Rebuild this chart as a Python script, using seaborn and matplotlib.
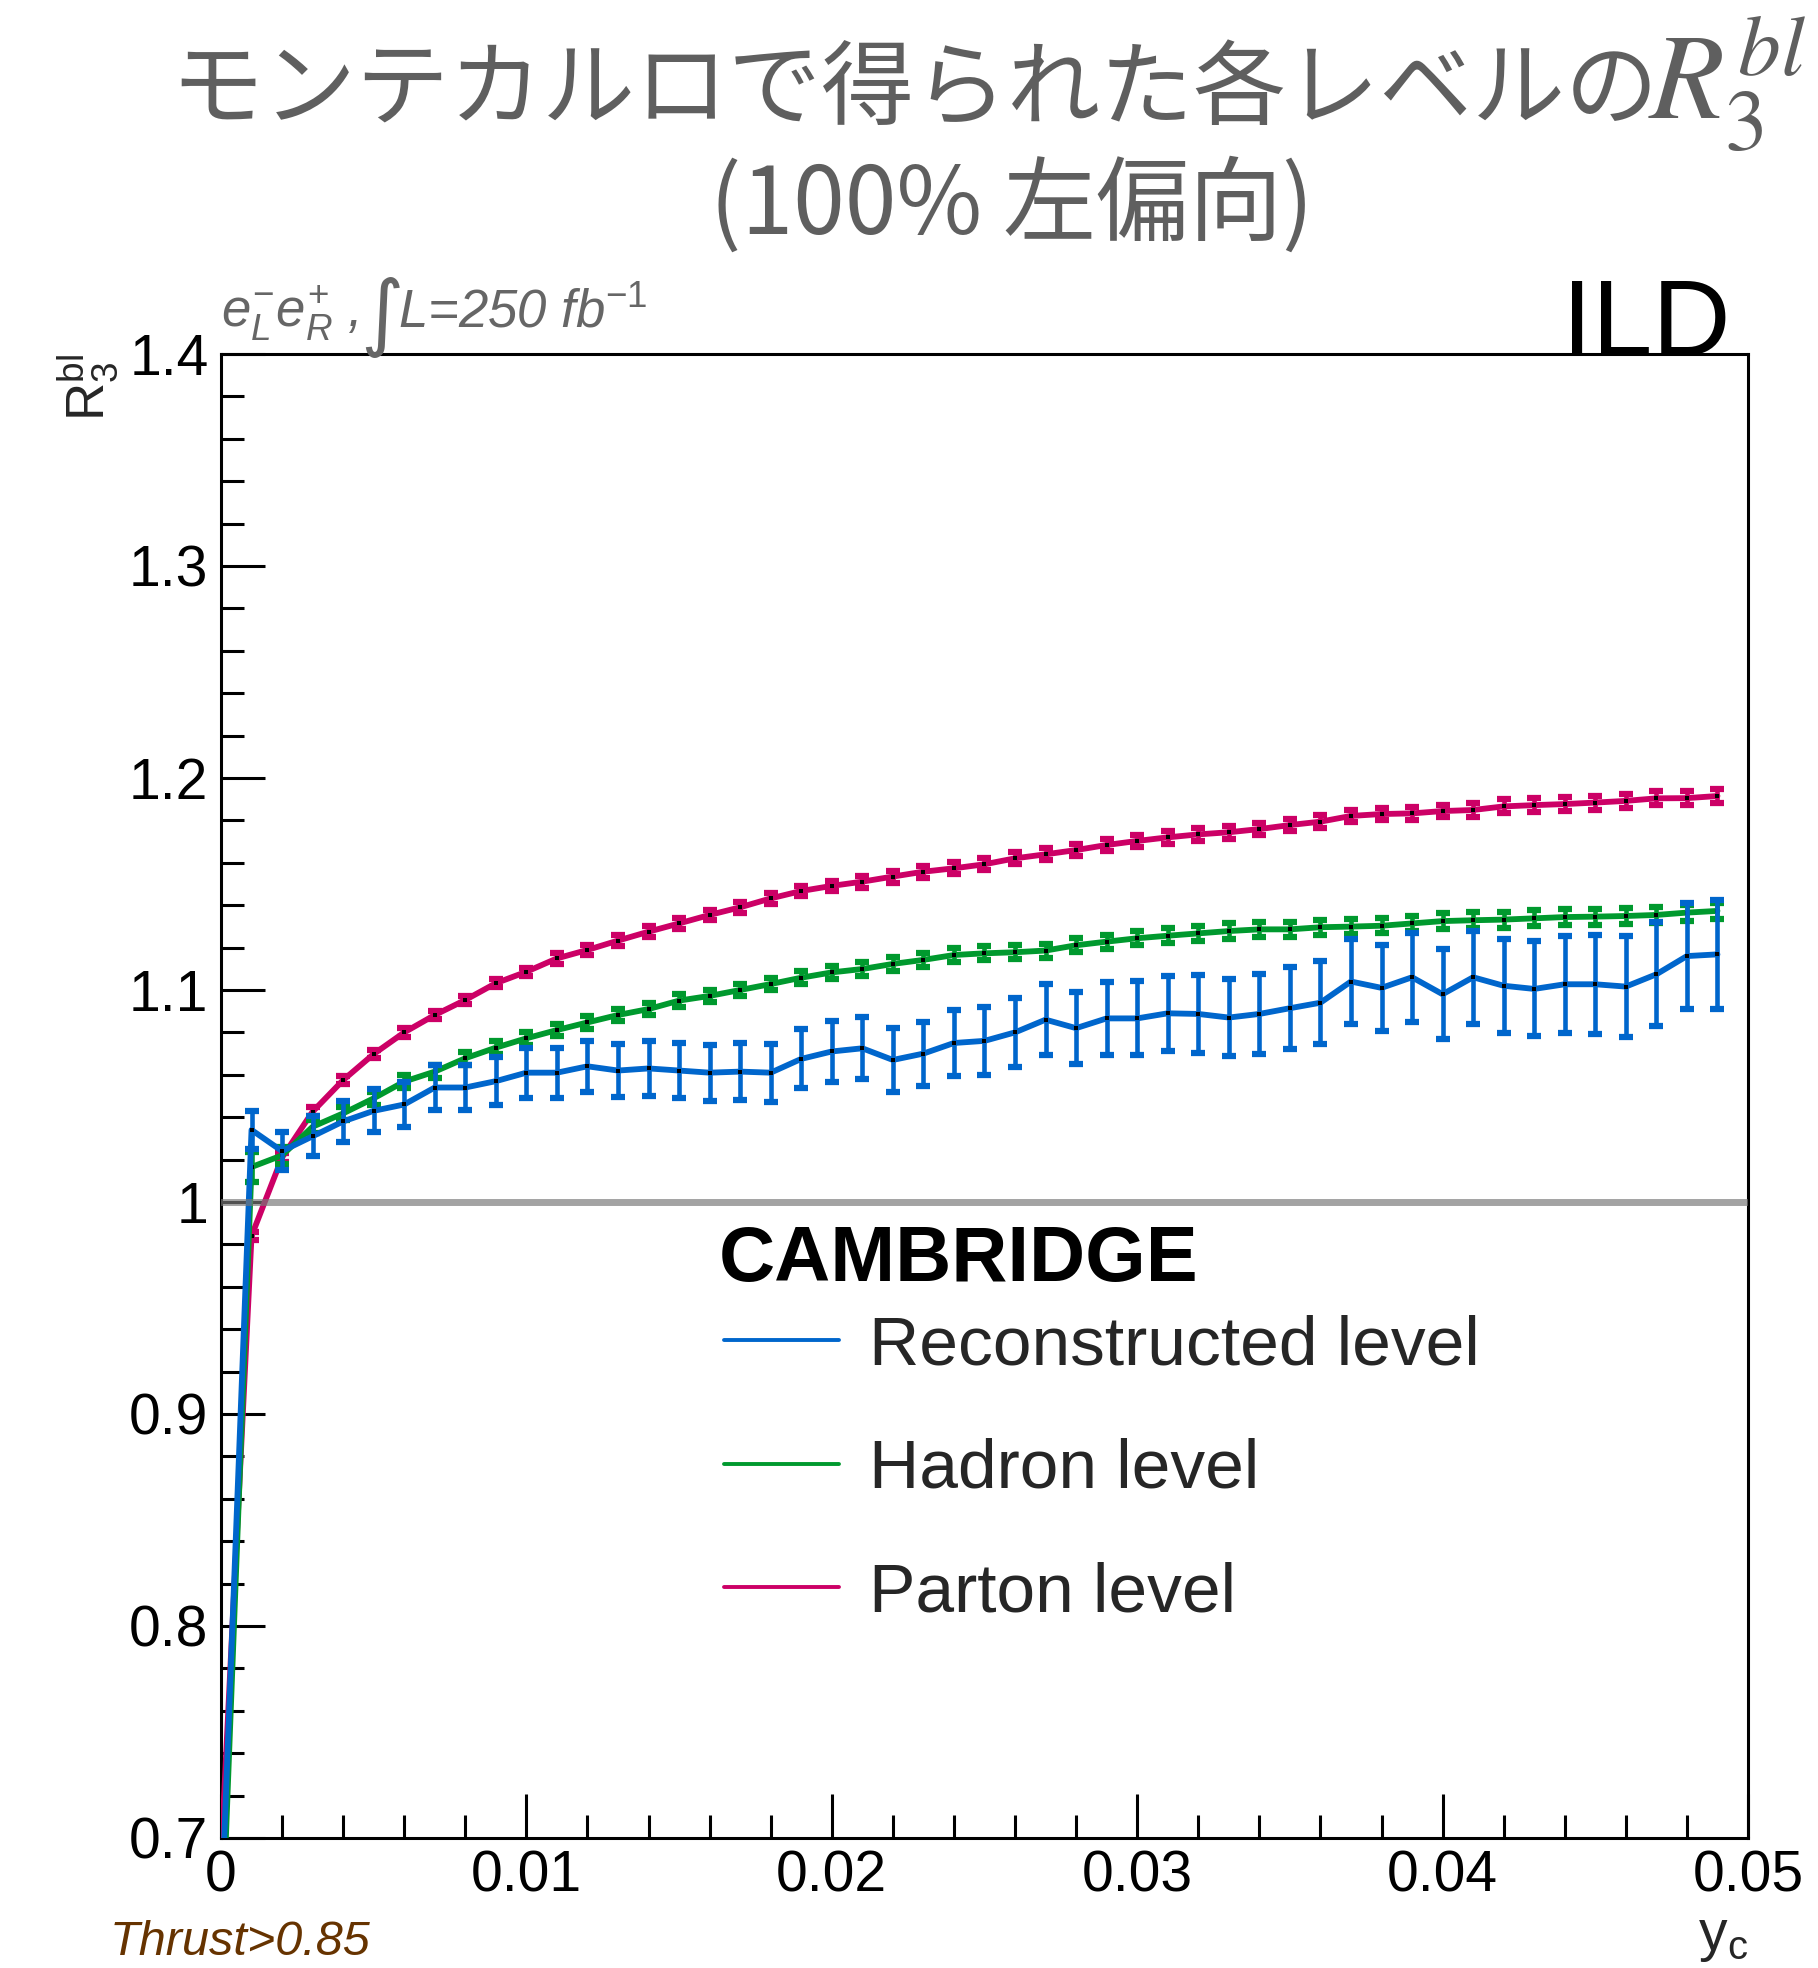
import numpy as np
import pandas as pd
import matplotlib
matplotlib.use("Agg")
import matplotlib.pyplot as plt
import seaborn as sns
from matplotlib.ticker import MultipleLocator, FuncFormatter

# ---- data: R3^bl versus the jet-resolution cut y_c ----
ycut = np.arange(50) / 1000.0

r3_reco = [0.660, 1.034, 1.024, 1.031, 1.038, 1.043, 1.046, 1.054, 1.054, 1.057,
           1.061, 1.061, 1.064, 1.062, 1.063, 1.062, 1.061, 1.0615, 1.061, 1.0675,
           1.071, 1.0725, 1.067, 1.070, 1.075, 1.076, 1.080, 1.086, 1.082, 1.0866,
           1.0866, 1.089, 1.0887, 1.087, 1.0887, 1.0914, 1.094, 1.104, 1.101, 1.106,
           1.098, 1.106, 1.102, 1.1005, 1.1027, 1.1027, 1.1016, 1.1074, 1.116, 1.1168]
r3_hadron = [0.640, 1.0165, 1.022, 1.0355, 1.0418, 1.0489, 1.0568, 1.0615, 1.0678, 1.0728,
             1.0772, 1.0811, 1.0847, 1.0882, 1.091, 1.095, 1.0972, 1.100, 1.1028, 1.1058,
             1.1083, 1.1099, 1.1123, 1.1142, 1.1165, 1.1173, 1.1178, 1.1186, 1.1211, 1.1228,
             1.1244, 1.1256, 1.1267, 1.1278, 1.1286, 1.1286, 1.1296, 1.1299, 1.1303, 1.1314,
             1.1325, 1.1329, 1.1332, 1.1338, 1.1344, 1.1346, 1.1349, 1.1354, 1.1365, 1.1373]
r3_parton = [0.690, 0.984, 1.021, 1.0426, 1.0575, 1.0698, 1.080, 1.0882, 1.0953, 1.1032,
             1.1086, 1.1149, 1.1189, 1.1233, 1.1275, 1.1314, 1.1354, 1.139, 1.1432, 1.1467,
             1.1491, 1.1511, 1.1535, 1.1558, 1.1574, 1.1593, 1.1621, 1.164, 1.166, 1.1684,
             1.1703, 1.172, 1.1734, 1.1744, 1.1759, 1.1778, 1.1794, 1.1821, 1.183, 1.1833,
             1.1844, 1.1849, 1.1866, 1.1872, 1.1877, 1.1884, 1.1892, 1.1904, 1.1905, 1.1915]

# statistical uncertainties for y_c = 0.001 ... 0.049
err_reco = [0.009, 0.009, 0.0094, 0.0098, 0.0102, 0.0106, 0.0108, 0.0108, 0.0114, 0.0118,
            0.0118, 0.012, 0.0126, 0.013, 0.013, 0.0132, 0.0134, 0.0137, 0.0139, 0.0144,
            0.0147, 0.0149, 0.0151, 0.0156, 0.0159, 0.0161, 0.0166, 0.0169, 0.0174, 0.0175,
            0.0178, 0.0182, 0.0183, 0.0188, 0.0193, 0.0197, 0.020, 0.0204, 0.021, 0.0212,
            0.0219, 0.0222, 0.0224, 0.023, 0.0233, 0.024, 0.0245, 0.025, 0.0258]
err_hadron = [0.007, 0.004, 0.003, 0.003, 0.003, 0.003, 0.003, 0.003, 0.003, 0.003,
              0.003, 0.003, 0.003, 0.003, 0.003, 0.003, 0.003, 0.003, 0.003, 0.003,
              0.0033, 0.0033, 0.0033, 0.0033, 0.0033, 0.0033, 0.0033, 0.0033, 0.0033, 0.0033,
              0.0036, 0.0036, 0.0036, 0.0036, 0.0036, 0.0036, 0.0036, 0.0036, 0.0036, 0.0036,
              0.0038, 0.0038, 0.0038, 0.0038, 0.0038, 0.0038, 0.0038, 0.0038, 0.0038]
err_parton = [0.002, 0.002, 0.002, 0.002, 0.002, 0.002, 0.002, 0.002, 0.002, 0.002,
              0.0025, 0.0025, 0.0025, 0.0025, 0.0025, 0.0025, 0.0025, 0.0025, 0.0025, 0.0025,
              0.0028, 0.0028, 0.0028, 0.0028, 0.0028, 0.0028, 0.0028, 0.0028, 0.0028, 0.0028,
              0.003, 0.003, 0.003, 0.003, 0.003, 0.003, 0.003, 0.003, 0.003, 0.003,
              0.0033, 0.0033, 0.0033, 0.0033, 0.0033, 0.0033, 0.0033, 0.0033, 0.0033]

levels = ["Reconstructed level", "Hadron level", "Parton level"]
values = {"Reconstructed level": r3_reco, "Hadron level": r3_hadron, "Parton level": r3_parton}
errors = {"Reconstructed level": err_reco, "Hadron level": err_hadron, "Parton level": err_parton}
colors = {"Reconstructed level": "#0066cc", "Hadron level": "#00992e", "Parton level": "#cc0066"}
layer = {"Reconstructed level": 5, "Hadron level": 4, "Parton level": 3}

# ---- style ----
sns.set_theme(style="ticks")
plt.rcParams.update({
    "font.family": ["Liberation Sans", "DejaVu Sans"],
    "mathtext.fontset": "custom",
    "mathtext.rm": "Liberation Sans",
    "mathtext.it": "Liberation Sans:italic",
    "mathtext.bf": "Liberation Sans:bold",
    "mathtext.sf": "Liberation Sans",
    "axes.edgecolor": "black",
    "axes.linewidth": 2.2,
    "xtick.color": "black",
    "ytick.color": "black",
})

W, H = 1818, 1968
fig = plt.figure(figsize=(W / 100, H / 100), dpi=100)
ax = fig.add_axes([0.12156, 0.06606, 0.83993, 0.75407])

df = pd.concat(
    [pd.DataFrame({"ycut": ycut, "R3": values[lv], "level": lv}) for lv in levels],
    ignore_index=True,
)
sns.lineplot(data=df, x="ycut", y="R3", hue="level", hue_order=levels,
             palette=colors, linewidth=4.2, estimator=None, errorbar=None,
             sort=False, legend=False, ax=ax)
handles = list(ax.get_lines()[:3])
for h, lv in zip(handles, levels):
    h.set_zorder(layer[lv])
    h.set_solid_joinstyle("round")

for lv in levels:
    z = layer[lv]
    ax.errorbar(ycut[1:], values[lv][1:], yerr=errors[lv], fmt="none",
                ecolor=colors[lv], elinewidth=3.3, capsize=5.2, capthick=4.5,
                zorder=z)
    ax.plot(ycut[1:], values[lv][1:], ls="none", marker="s", ms=2.4,
            mfc="black", mec="black", mew=0, zorder=z + 0.5)

ax.axhline(1.0, color=(120 / 255, 120 / 255, 120 / 255), alpha=0.68, lw=5, zorder=10)

ax.set_xlim(0, 0.05)
ax.set_ylim(0.7, 1.4)
ax.xaxis.set_major_locator(MultipleLocator(0.01))
ax.xaxis.set_minor_locator(MultipleLocator(0.002))
ax.yaxis.set_major_locator(MultipleLocator(0.1))
ax.yaxis.set_minor_locator(MultipleLocator(0.02))
fmt = FuncFormatter(lambda v, p: "%g" % round(v, 4))
ax.xaxis.set_major_formatter(fmt)
ax.yaxis.set_major_formatter(fmt)
ax.tick_params(which="both", direction="in", top=False, right=False, width=2.2,
               colors="black")
ax.tick_params(which="major", length=32, labelsize=41)
ax.tick_params(which="minor", length=16.5)
ax.tick_params(axis="x", which="major", pad=8)
ax.tick_params(axis="y", which="major", pad=9)
for s in ax.spines.values():
    s.set_visible(True)
    s.set_linewidth(2.2)
    s.set_color("black")

ax.set_xlabel(r"$\mathrm{y}_{\mathrm{c}}$", fontsize=41, loc="right")
ax.xaxis.set_label_coords(1.0, -0.0485)
ax.set_ylabel(r"$\mathrm{R}_{3}^{\mathrm{bl}}$", fontsize=38, loc="top")
ax.yaxis.set_label_coords(-0.066, 1.0)

# legend: algorithm name as a heading, then one row per level
ax.text(0.326, 0.3753, "CAMBRIDGE", transform=ax.transAxes, fontsize=56,
        fontweight="bold", color="black", ha="left", va="baseline")
leg = ax.legend(handles, levels, loc="upper left",
                bbox_to_anchor=(0.3295, 0.353), frameon=False, fontsize=50,
                handlelength=1.66, handletextpad=0.42,
                labelspacing=0.86, borderpad=0, borderaxespad=0)
for ln in leg.get_lines():
    ln.set_linewidth(2.8)

# ---- titles and annotations ----
cjk = ["Noto Sans CJK JP", "DejaVu Sans"]
title_gray = "#5f5f5f"
fig.text(170 / W, 1 - 118 / H, "モンテカルロで得られた各レベルの",
         fontsize=67, family=cjk, color=title_gray, ha="left", va="baseline")
fig.text(1806 / W, 1 - 118 / H, r"$R_3^{bl}$", fontsize=88,
         math_fontfamily="stix", color=title_gray, ha="right", va="baseline")
fig.text(1012 / W, 1 - 234 / H, "(100% 左偏向)", fontsize=67, family=cjk,
         color=title_gray, ha="center", va="baseline")

note_gray = "#666666"
fig.text(221 / W, 1 - 327 / H, r"$e^{-}_{L}e^{+}_{R}$ ,",
         fontsize=38, style="italic", color=note_gray, ha="left", va="baseline")
fig.text(360 / W, 1 - 340 / H, "\u222b", fontsize=60, family="DejaVu Sans",
         color=note_gray, ha="left", va="baseline")
fig.text(398 / W, 1 - 327 / H, r"L=250 fb$^{-1}$",
         fontsize=38, style="italic", color=note_gray, ha="left", va="baseline")
fig.text(1731 / W, 1 - 355 / H, "ILD", fontsize=78, color="black",
         ha="right", va="baseline")
fig.text(110 / W, 1 - 1955 / H, "Thrust>0.85", fontsize=35, style="italic",
         color="#663300", ha="left", va="baseline")

fig.savefig("out.png", dpi=100)
